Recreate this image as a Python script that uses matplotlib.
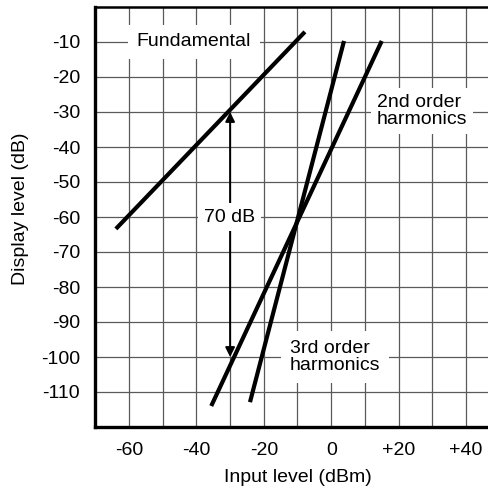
import matplotlib
matplotlib.use("Agg")
import matplotlib.pyplot as plt

plt.rcParams['font.family'] = ['Liberation Sans', 'DejaVu Sans']

# Data (input level dBm -> display level dB), line endpoints
fund_x = [-63.9, -7.8]
fund_y = [-63.4, -7.1]
second_x = [-35.6, 15.0]
second_y = [-114.0, -9.7]
third_x = [-24.1, 3.8]
third_y = [-112.9, -9.7]

x_grid = [-60, -50, -40, -30, -20, -10, 0, 10, 20, 30, 40]
x_tick_vals = [-60, -40, -20, 0, 20, 40]
x_tick_labels = ['-60', '-40', '-20', '0', '+20', '+40']
y_tick_vals = [-10, -20, -30, -40, -50, -60, -70, -80, -90, -100, -110]
y_tick_labels = ['-10', '-20', '-30', '-40', '-50', '-60', '-70', '-80', '-90', '-100', '-110']

arrow_x = -30
arrow_top = -30
arrow_bottom = -100

fig = plt.figure(figsize=(4.89, 4.93), dpi=100)
ax = fig.add_axes([95.3 / 489, 66 / 493, 1 - 95.3 / 489, 420 / 493])
ax.set_xlim(-70, -70 + (489 - 95.3) / 3.37)
ax.set_ylim(-120, 0)

FS = 14
TFS = 14
gc = '#5a5a5a'
for gx in x_grid:
    ax.axvline(gx, color=gc, lw=0.9, zorder=1)
for gy in y_tick_vals:
    ax.axhline(gy, color=gc, lw=0.9, zorder=1)

ax.set_xticks(x_tick_vals)
ax.set_xticklabels(x_tick_labels, fontsize=TFS)
ax.set_yticks(y_tick_vals)
ax.set_yticklabels(y_tick_labels, fontsize=TFS)
ax.tick_params(axis='both', length=0)
ax.tick_params(axis='y', pad=11)
ax.tick_params(axis='x', pad=11)

for s in ['left', 'bottom']:
    ax.spines[s].set_linewidth(2.4)
ax.spines['top'].set_linewidth(1.8)
ax.spines['right'].set_visible(False)

lkw = dict(color='black', lw=3.0, solid_capstyle='butt', zorder=5)
ax.plot(fund_x, fund_y, **lkw)
ax.plot(second_x, second_y, **lkw)
ax.plot(third_x, third_y, **lkw)

ax.annotate('', xy=(arrow_x, arrow_top), xytext=(arrow_x, arrow_bottom),
            arrowprops=dict(arrowstyle='<|-|>', color='black', lw=1.4,
                            mutation_scale=14, shrinkA=0, shrinkB=0),
            zorder=2)

ax.text(-40.7, -10, 'Fundamental', fontsize=FS, ha='center', va='center',
        bbox=dict(boxstyle='square,pad=0.45', facecolor='white', edgecolor='none'), zorder=3)
ax.text(-30.1, -60, '70 dB', fontsize=FS, ha='center', va='center',
        bbox=dict(boxstyle='square,pad=0.3', facecolor='white', edgecolor='none'), zorder=3)
ax.text(26.9, -29.7, '2nd order\nharmonics', fontsize=FS, ha='center', va='center',
        multialignment='left', linespacing=1.0,
        bbox=dict(boxstyle='square,pad=0.3', facecolor='white', edgecolor='none'), zorder=3)
ax.text(1.1, -100, '3rd order\nharmonics', fontsize=FS, ha='center', va='center',
        multialignment='left', linespacing=1.0,
        bbox=dict(boxstyle='square,pad=0.45', facecolor='white', edgecolor='none'), zorder=3)

fig.text(21 / 489, 1 - 209 / 493, 'Display level (dB)', rotation=90, fontsize=FS,
         ha='center', va='center')
fig.text(298 / 489, 1 - 478 / 493, 'Input level (dBm)', fontsize=FS,
         ha='center', va='center')

fig.savefig('out.png', dpi=100)
